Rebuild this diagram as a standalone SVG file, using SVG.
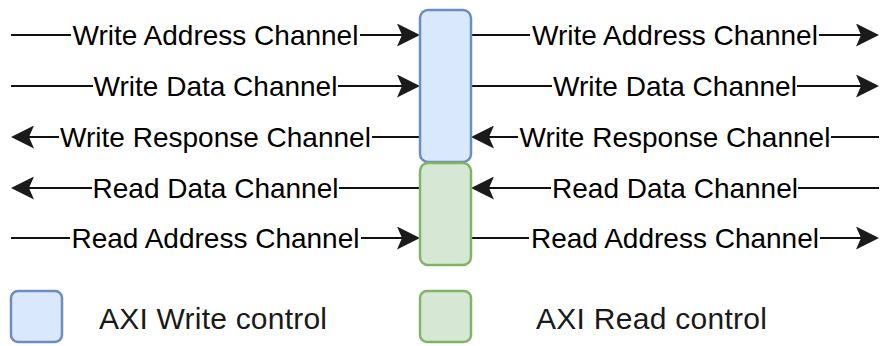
<svg xmlns="http://www.w3.org/2000/svg" width="880" height="346" viewBox="0 0 880 346">
<style>
.ln{stroke:#111;stroke-width:2;fill:none}
.lb{font-family:"Liberation Sans",Arial,sans-serif;font-size:28px;fill:#000;text-anchor:middle}
.bg{fill:#fff}
.lg{font-family:"Liberation Sans",Arial,sans-serif;font-size:30px;fill:#1a1a1a}
.w{fill:#dae8fc;stroke:#6c8ebf;stroke-width:2.5}
.r{fill:#d5e8d4;stroke:#82b366;stroke-width:2.5}
</style>
<defs>
<marker id="ah" viewBox="0 0 23 23" refX="5" refY="11.5" markerWidth="23" markerHeight="23" markerUnits="userSpaceOnUse" orient="auto">
<path d="M0,0 L23,11.5 L0,23 L5,11.5 Z" fill="#1a1a1a"/>
</marker>
</defs>
<g id="connectors">
<path class="ln" d="M11,35 H402" marker-end="url(#ah)"/>
<path class="ln" d="M11,86 H402" marker-end="url(#ah)"/>
<path class="ln" d="M420,137 H29" marker-end="url(#ah)"/>
<path class="ln" d="M420,188 H29" marker-end="url(#ah)"/>
<path class="ln" d="M11,238 H402" marker-end="url(#ah)"/>
<path class="ln" d="M471,35 H861" marker-end="url(#ah)"/>
<path class="ln" d="M471,86 H861" marker-end="url(#ah)"/>
<path class="ln" d="M879,137 H489" marker-end="url(#ah)"/>
<path class="ln" d="M879,188 H489" marker-end="url(#ah)"/>
<path class="ln" d="M471,238 H861" marker-end="url(#ah)"/>
</g>
<g id="labels">
<rect class="bg" x="71" y="20" width="289" height="30"/>
<text class="lb" x="215.5" y="45">Write Address Channel</text>
<rect class="bg" x="93" y="71" width="245" height="30"/>
<text class="lb" x="215.5" y="96">Write Data Channel</text>
<rect class="bg" x="59" y="122" width="313" height="30"/>
<text class="lb" x="215.5" y="147">Write Response Channel</text>
<rect class="bg" x="92" y="173" width="247" height="30"/>
<text class="lb" x="215.5" y="198">Read Data Channel</text>
<rect class="bg" x="70" y="223" width="291" height="30"/>
<text class="lb" x="215.5" y="248">Read Address Channel</text>
<rect class="bg" x="530" y="20" width="289" height="30"/>
<text class="lb" x="675" y="45">Write Address Channel</text>
<rect class="bg" x="552" y="71" width="245" height="30"/>
<text class="lb" x="675" y="96">Write Data Channel</text>
<rect class="bg" x="518" y="122" width="313" height="30"/>
<text class="lb" x="675" y="147">Write Response Channel</text>
<rect class="bg" x="551" y="173" width="247" height="30"/>
<text class="lb" x="675" y="198">Read Data Channel</text>
<rect class="bg" x="529" y="223" width="291" height="30"/>
<text class="lb" x="675" y="248">Read Address Channel</text>
</g>
<g id="write-control"><rect class="w" x="420" y="10" width="51" height="152" rx="8"/></g>
<g id="read-control"><rect class="r" x="420" y="163" width="51" height="102" rx="8"/></g>
<g id="legend-write">
<rect class="w" x="11" y="291" width="51" height="51" rx="7"/>
<text class="lg" x="99" y="329" textLength="228">AXI Write control</text>
</g>
<g id="legend-read">
<rect class="r" x="420" y="291" width="51" height="51" rx="7"/>
<text class="lg" x="536" y="329" textLength="231">AXI Read control</text>
</g>
</svg>
